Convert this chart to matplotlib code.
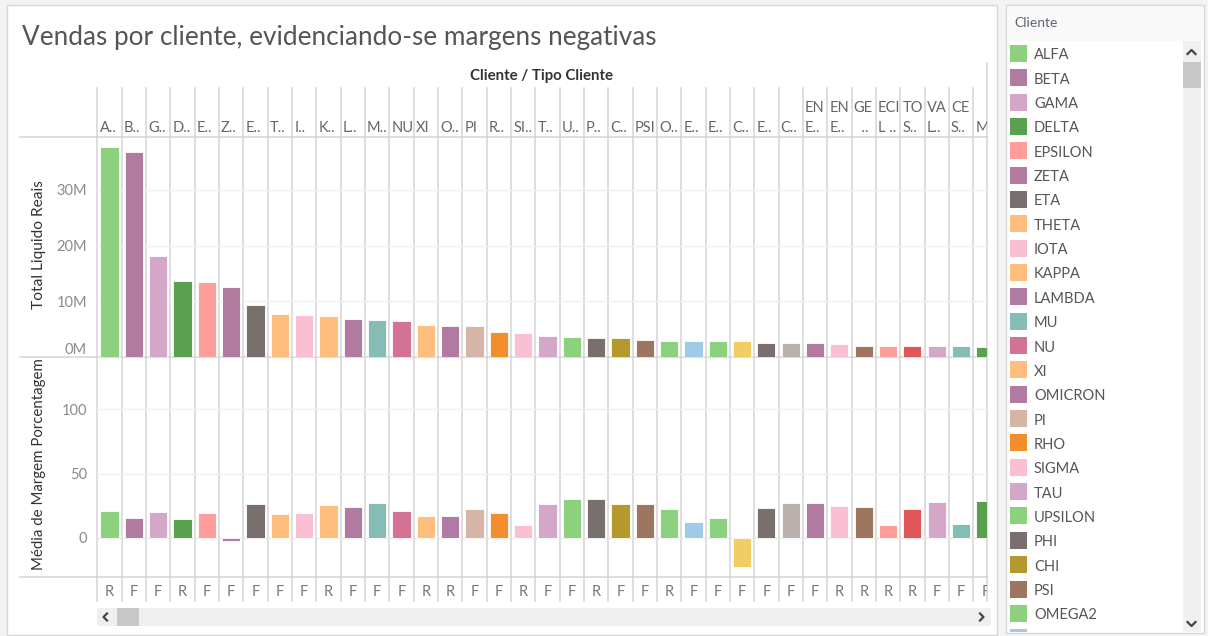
import matplotlib
matplotlib.use("Agg")
import matplotlib.pyplot as plt
from matplotlib.patches import Rectangle
from matplotlib.ticker import FuncFormatter
import numpy as np

# ---------------- data ----------------
rotulos_coluna = ["A..", "B..", "G..", "D..", "E..", "Z..", "E..", "T..", "I..", "K..",
                  "L..", "M..", "NU", "XI", "O..", "PI", "R..", "SI..", "T..", "U..",
                  "P..", "C..", "PSI", "O..", "E..", "E..", "C..", "E..", "C..",
                  "EN\nE..", "EN\nE..", "GE\n  ..", "ECI\nL ..", "TO\nS..", "VA\nL..",
                  "CE\nS..", "M"]
tipo_cliente = ["R", "F", "F", "R", "F", "F", "F", "F", "F", "R",
                "F", "F", "F", "R", "R", "F", "F", "R", "F", "F",
                "R", "F", "F", "R", "F", "F", "F", "F", "F", "F",
                "R", "R", "R", "R", "F", "F", "F"]
total_liquido_milhoes = [37.7, 36.8, 18.2, 13.6, 13.4, 12.6, 9.3, 7.8, 7.5, 7.3,
                         6.9, 6.6, 6.4, 5.8, 5.6, 5.5, 4.5, 4.25, 3.8, 3.6,
                         3.35, 3.35, 3.1, 2.9, 2.9, 2.9, 2.85, 2.5, 2.5, 2.45,
                         2.4, 2.05, 2.0, 2.0, 1.95, 1.95, 1.8]
margem_pct = [21.0, 15.3, 20.0, 14.3, 19.0, -2.5, 26.0, 18.2, 19.0, 25.8,
              23.9, 27.5, 21.0, 17.2, 17.4, 22.1, 19.0, 9.9, 26.0, 30.6,
              30.6, 26.0, 26.0, 22.1, 12.5, 15.3, -22.6, 22.9, 26.8, 26.8,
              24.9, 23.9, 9.9, 22.1, 27.8, 10.6, 28.6]
cores = ["#8CD17D", "#B07AA1", "#D4A6C8", "#59A14F", "#FF9D9A", "#B07AA1", "#79706E",
         "#FFBE7D", "#FABFD2", "#FFBE7D", "#B07AA1", "#86BCB6", "#D37295", "#FFBE7D",
         "#B07AA1", "#D7B5A6", "#F28E2B", "#FABFD2", "#D4A6C8", "#8CD17D", "#79706E",
         "#B6992D", "#9D7660", "#8CD17D", "#A0CBE8", "#8CD17D", "#F1CE63", "#79706E",
         "#BAB0AC", "#B07AA1", "#FABFD2", "#9D7660", "#FF9D9A", "#E15759", "#D4A6C8",
         "#86BCB6", "#59A14F"]
legenda_clientes = ["ALFA", "BETA", "GAMA", "DELTA", "EPSILON", "ZETA", "ETA", "THETA",
                    "IOTA", "KAPPA", "LAMBDA", "MU", "NU", "XI", "OMICRON", "PI", "RHO",
                    "SIGMA", "TAU", "UPSILON", "PHI", "CHI", "PSI", "OMEGA2", "ELETROACRE"]
legenda_cores = cores[:len(legenda_clientes)]

titulo = "Vendas por cliente, evidenciando-se margens negativas"

# ---------------- layout ----------------
W, H = 1208, 636
plt.rcParams['font.family'] = ['Lato', 'DejaVu Sans']
fig = plt.figure(figsize=(W / 100, H / 100), dpi=100, facecolor='#f3f3f3')


def rect(x0, y0, x1, y1):
    return [x0 / W, 1 - y1 / H, (x1 - x0) / W, (y1 - y0) / H]


GRID = '#d4d4d4'
bg = fig.add_axes([0, 0, 1, 1])
bg.set_xlim(0, W)
bg.set_ylim(H, 0)
bg.axis('off')
bg.set_zorder(0)

bg.add_patch(Rectangle((7, 5), 990, 630, fc='white', ec='#d6d6d6', lw=1))
bg.add_patch(Rectangle((1006, 5), 198, 628, fc='white', ec='#d6d6d6', lw=1))
bg.add_patch(Rectangle((1007, 6), 196, 35, fc='#f9f9f9', ec='none'))

bg.text(22, 45, titulo, ha='left', va='baseline', fontsize=18.8, color='#555555')
bg.text(542, 76, "Cliente / Tipo Cliente", ha='center', va='center', fontsize=10.8,
        fontweight='bold', color='#333333')

X0, X1 = 97.3, 986.7
COLW = 24.33
n = len(total_liquido_milhoes)
pos = np.arange(n)
xlim = (-0.5, -0.5 + (X1 - X0) / COLW)

for y in (137, 357, 577):
    bg.plot([20, X1], [y, y], color=GRID, lw=1.1)
bg.plot([X1, X1], [63, 88], color=GRID, lw=1.1)


def pane(y0, y1):
    ax = fig.add_axes(rect(X0, y0, X1, y1))
    ax.set_xlim(*xlim)
    ax.patch.set_alpha(0)
    for s in ax.spines.values():
        s.set_visible(False)
    ax.set_xticks([])
    ax.set_zorder(1)
    for b in np.arange(n + 1) - 0.5:
        if b <= xlim[1]:
            ax.axvline(b, color=GRID, lw=1.1, zorder=0.5, clip_on=False)
    ax.axvline(xlim[1], color=GRID, lw=1.1, zorder=0.5, clip_on=False)
    return ax


# header
axh = pane(88, 137)
axh.set_ylim(137, 88)
axh.set_yticks([])
for i, lab in enumerate(rotulos_coluna):
    for k, line in enumerate(reversed(lab.split('\n'))):
        axh.text(i - 0.5 + 0.09, 131.5 - 19.5 * k, line, ha='left', va='baseline',
                 fontsize=10.5, color='#666666', clip_on=True)

# top pane
axt = pane(137, 357)
axt.bar(pos, np.array(total_liquido_milhoes) * 1e6, width=0.75, color=cores,
        edgecolor='white', lw=0.6, zorder=2)
axt.set_ylim(0, 39.5e6)
axt.set_yticks([0, 10e6, 20e6, 30e6])
axt.yaxis.set_major_formatter(FuncFormatter(lambda v, p: f"{v / 1e6:.0f}M"))
axt.tick_params(axis='y', length=0, pad=7.4, labelsize=10.5, labelcolor='#8a8a8a')
axt.yaxis.grid(True, color='#f0f0f0', lw=1)
axt.set_axisbelow(True)
axt.get_yticklabels()[0].set_va('bottom')
axt.set_ylabel("Total Liquido Reais", fontsize=11.2, color='#333333')
axt.yaxis.set_label_coords((39 - X0) / (X1 - X0), (357 - 245) / 220)
axt.yaxis.label.set_va('center')

# bottom pane
axb = pane(357, 577)
axb.bar(pos, margem_pct, width=0.75, color=cores, edgecolor='white', lw=0.6, zorder=2)
axb.set_ylim(-30.4, 140.6)
axb.set_yticks([0, 50, 100])
axb.tick_params(axis='y', length=0, pad=7.4, labelsize=10.5, labelcolor='#8a8a8a')
axb.yaxis.grid(True, color='#f0f0f0', lw=1)
axb.set_axisbelow(True)
axb.axhline(0, color='#dcdcdc', lw=0.8, ls=(0, (1, 1)), zorder=1)
axb.set_ylabel("Média de Margem Porcentagem", fontsize=10.8, color='#333333')
axb.yaxis.set_label_coords((39 - X0) / (X1 - X0), (577 - 464) / 220)
axb.yaxis.label.set_va('center')

# footer
axf = pane(577, 601)
axf.set_ylim(601, 577)
axf.set_yticks([])
for i, t in enumerate(tipo_cliente):
    axf.text(i, 596.5, t, ha='center', va='baseline', fontsize=10.5, color='#777777',
             clip_on=True)

# horizontal scrollbar
bg.add_patch(Rectangle((97, 608), 894, 18, fc='#efefef', ec='none'))
bg.add_patch(Rectangle((117, 608), 22, 18, fc='#c8c8c8', ec='none'))
bg.plot([107, 103.5, 107], [613.5, 617, 620.5], color='#444444', lw=1.6)
bg.plot([980, 983.5, 980], [613.5, 617, 620.5], color='#444444', lw=1.6)

# legend
bg.text(1014, 23, "Cliente", ha='left', va='center', fontsize=10, color='#5f6470')
lax = fig.add_axes(rect(1007, 41, 1182, 632))
lax.set_xlim(1007, 1182)
lax.set_ylim(632, 41)
lax.axis('off')
lax.set_zorder(1)
for i, (nome, c) in enumerate(zip(legenda_clientes, legenda_cores)):
    yc = 53.3 + 24.35 * i
    lax.add_patch(Rectangle((1010, yc - 8.5), 17, 17, fc=c, ec='none'))
    lax.text(1034, yc + 6.0, nome, ha='left', va='baseline', fontsize=10.5,
             color='#555555', clip_on=True)

bg.add_patch(Rectangle((1183, 41), 18, 591, fc='#f0f0f0', ec='none'))
bg.add_patch(Rectangle((1183, 62), 18, 26, fc='#c8c8c8', ec='none'))
bg.plot([1187.5, 1191.5, 1195.5], [54, 50, 54], color='#444444', lw=1.6)
bg.plot([1187.5, 1191.5, 1195.5], [622, 626, 622], color='#444444', lw=1.6)

fig.savefig("out.png", dpi=100, facecolor=fig.get_facecolor())
